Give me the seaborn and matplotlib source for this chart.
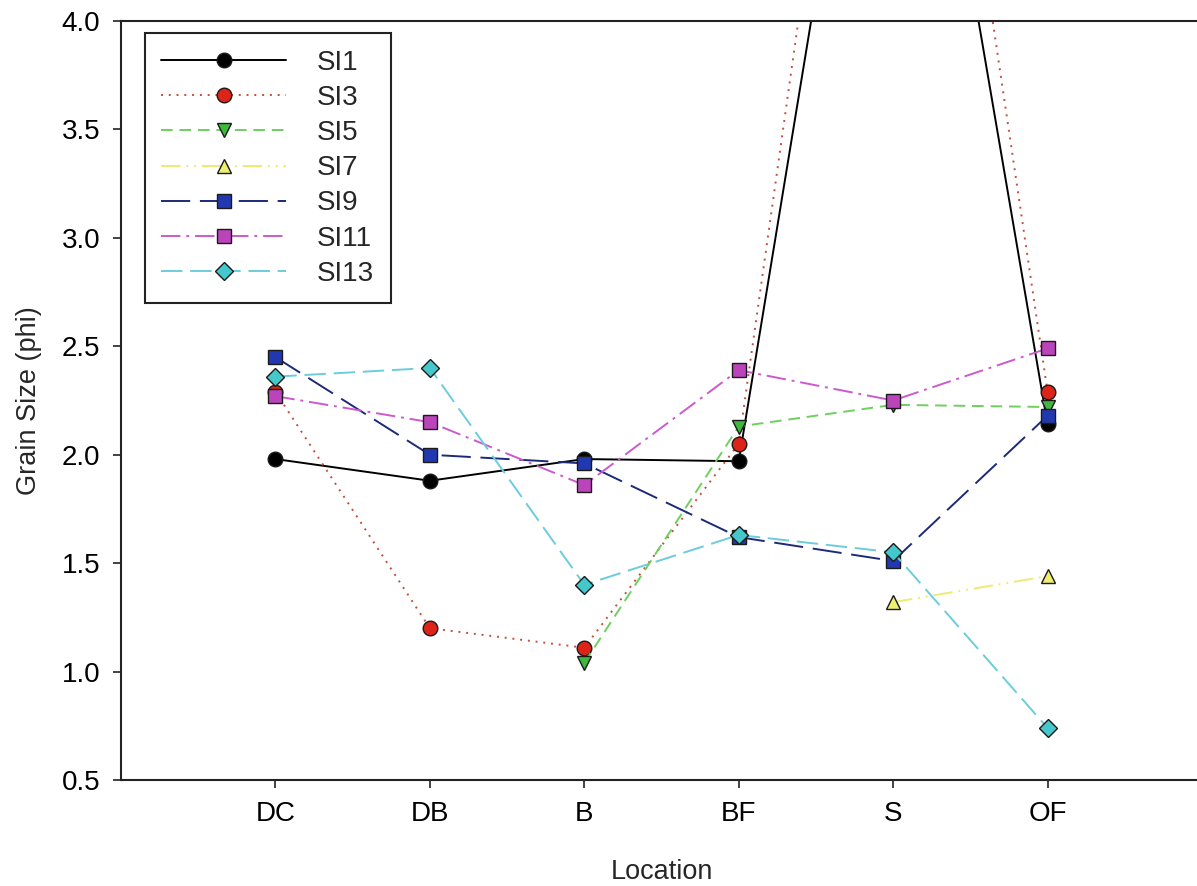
import numpy as np
import pandas as pd
import seaborn as sns
import matplotlib.pyplot as plt

# grain size (phi) at each location
locations = ["DC", "DB", "B", "BF", "S", "OF"]
si1 = [1.98, 1.88, 1.98, 1.97, 6.3, 2.14]
si3 = [2.29, 1.20, 1.11, 2.05, 7.1, 2.29]
si5 = [np.nan, np.nan, 1.04, 2.13, 2.23, 2.22]
si7 = [np.nan, np.nan, np.nan, np.nan, 1.32, 1.44]
si9 = [2.45, 2.00, 1.96, 1.62, 1.51, 2.18]
si11 = [2.27, 2.15, 1.86, 2.39, 2.25, 2.49]
si13 = [2.36, 2.40, 1.40, 1.63, 1.55, 0.74]

series = ["SI1", "SI3", "SI5", "SI7", "SI9", "SI11", "SI13"]
values = [si1, si3, si5, si7, si9, si11, si13]

# style per series: line colour, marker, marker fill, dash pattern
styles = {
    "SI1": dict(color="black", marker="o", mfc="black", dashes=None),
    "SI3": dict(color="#c0503a", marker="o", mfc="#dd2418", dashes=(1, 3)),
    "SI5": dict(color="#6fcf5f", marker="v", mfc="#3fb83f", dashes=(6, 3.5)),
    "SI7": dict(color="#ecec70", marker="^", mfc="#eeee70", dashes=(10, 3, 1, 3, 1, 3)),
    "SI9": dict(color="#1c2a78", marker="s", mfc="#2238b0", dashes=(15, 5)),
    "SI11": dict(color="#cc5acc", marker="s", mfc="#bb44bb", dashes=(10, 3, 1.5, 3)),
    "SI13": dict(color="#6cccdc", marker="D", mfc="#44c8cc", dashes=(11, 4)),
}

df = pd.DataFrame({"Location": locations})
for name, v in zip(series, values):
    df[name] = v

sns.set_style("ticks")
plt.rcParams["font.family"] = ["Liberation Sans", "DejaVu Sans"]

fig = plt.figure(figsize=(11.97, 8.86), dpi=100)
ax = fig.add_axes([121 / 1197, 106 / 886, 1081 / 1197, 759 / 886])

for name in series:
    st = styles[name]
    kw = dict(color=st["color"], marker=st["marker"], markerfacecolor=st["mfc"],
              markeredgecolor="#1a1a1a", markeredgewidth=1.0,
              markersize=10.5 if st["marker"] != "D" else 9.5,
              linewidth=1.4, label=name)
    sns.lineplot(data=df, x="Location", y=name, ax=ax, sort=False, **kw)
    ln = ax.get_lines()[-1]
    if st["dashes"] is not None:
        ln.set_dashes(st["dashes"])

ax.set_xlim(-1, 6)
ax.set_ylim(0.5, 4.0)
yt = np.arange(0.5, 4.01, 0.5)
ax.set_yticks(yt)
ax.set_yticklabels([f"{t:.1f}" for t in yt])
ax.tick_params(axis="both", direction="out", length=6, width=1.2, labelsize=20, pad=9,
               color="#222222", labelcolor="black")
for s in ax.spines.values():
    s.set_linewidth(1.5)
    s.set_color("#222222")

ax.set_xlabel("Location", fontsize=19.5, labelpad=23)
ax.set_ylabel("Grain Size (phi)", fontsize=19.5, labelpad=14)

leg = ax.legend(loc="upper left", bbox_to_anchor=(0.022, 0.984), borderaxespad=0,
                fontsize=20, handlelength=4.5, handletextpad=1.1, labelspacing=0.33,
                frameon=True, fancybox=False, framealpha=1, edgecolor="#222222",
                borderpad=0.6)
leg.get_frame().set_linewidth(1.5)

fig.savefig("out.png", dpi=100)
